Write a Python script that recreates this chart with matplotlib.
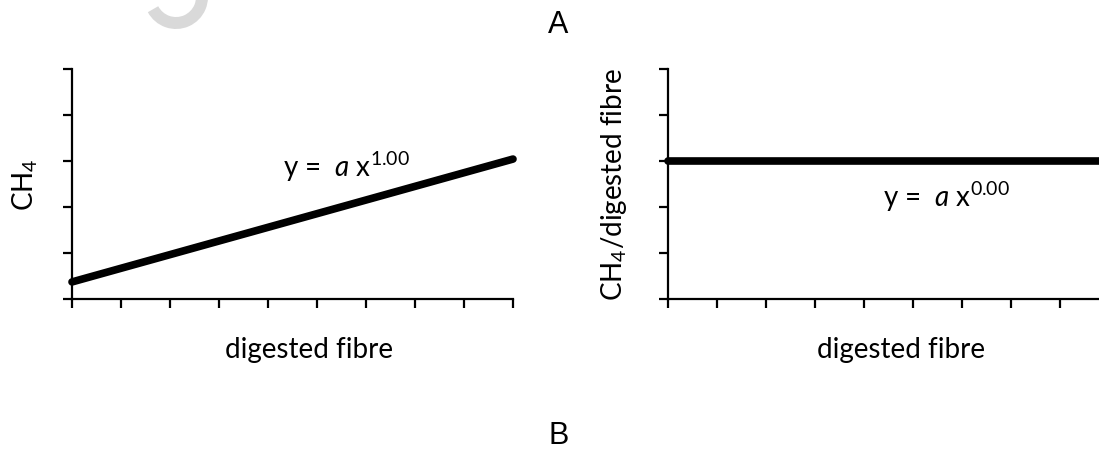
import matplotlib
matplotlib.use("Agg")
import matplotlib.pyplot as plt
from matplotlib.patches import Arc
import numpy as np

plt.rcParams["font.family"] = ["Lato", "DejaVu Sans"]
plt.rcParams["mathtext.fontset"] = "custom"
plt.rcParams["mathtext.rm"] = "Lato"
plt.rcParams["mathtext.it"] = "Lato:italic"

# digested fibre levels (x axis ticks / sample points)
fibre = [5, 9, 13, 17, 21, 25, 29, 33, 37, 41]
# power-law fits: y = a * x^b
a_ch4, b_ch4 = 0.0742, 1.00
a_ratio, b_ratio = 3.0, 0.00
y_ticks = [0, 1, 2, 3, 4, 5]

W, H = 1099, 452
fig = plt.figure(figsize=(W / 100, H / 100), dpi=100)


def box(l, t, r, b):
    return [l / W, 1 - b / H, (r - l) / W, (b - t) / H]


def fx(px):
    return px / W


def fy(py):
    return 1 - py / H


# light grey mark in the top-left corner
bg = fig.add_axes([0, 0, 1, 1], zorder=-5)
bg.set_xlim(0, W)
bg.set_ylim(H, 0)
bg.axis("off")
bg.add_patch(Arc((176, -2), 52, 52, theta1=-20, theta2=152,
                 color="#d9d9d9", lw=8.6, capstyle="butt"))

ax1 = fig.add_axes(box(72, 70, 513, 300))
ax2 = fig.add_axes(box(668, 70, 1109, 300))

for ax in (ax1, ax2):
    ax.set_xlim(fibre[0], fibre[-1])
    ax.set_ylim(y_ticks[0], y_ticks[-1])
    ax.set_xticks(fibre)
    ax.set_yticks(y_ticks)
    ax.tick_params(direction="out", length=6.5, width=1.6,
                   labelbottom=False, labelleft=False, color="black")
    for s in ("top", "right"):
        ax.spines[s].set_visible(False)
    for s in ("left", "bottom"):
        ax.spines[s].set_linewidth(1.6)
        ax.spines[s].set_color("black")
    ax.patch.set_alpha(0)

x = np.array(fibre, dtype=float)
ax1.plot(x, a_ch4 * x ** b_ch4, color="black", lw=5.5,
         solid_capstyle="round", clip_on=False, zorder=3)
ax2.plot(x, a_ratio * x ** b_ratio, color="black", lw=5.5,
         solid_capstyle="round", clip_on=False, zorder=3)

fig.text(fx(283), fy(177), r"y =  $\mathit{a}$ x$^{%.2f}$" % b_ch4,
         fontsize=20, ha="left", va="baseline")
fig.text(fx(883), fy(207), r"y =  $\mathit{a}$ x$^{%.2f}$" % b_ratio,
         fontsize=20, ha="left", va="baseline")

fig.text(fx(309), fy(350), "digested fibre", fontsize=20, ha="center", va="center")
fig.text(fx(901), fy(350), "digested fibre", fontsize=20, ha="center", va="center")

fig.text(fx(25), fy(185), r"CH$_4$", fontsize=20, rotation=90,
         ha="center", va="center")
fig.text(fx(614), fy(185), r"CH$_4$/digested fibre", fontsize=20, rotation=90,
         ha="center", va="center")

fig.text(fx(558), fy(25), "A", fontsize=22, family=["Liberation Sans"],
         ha="center", va="center")
fig.text(fx(559), fy(436), "B", fontsize=22, family=["Liberation Sans"],
         ha="center", va="center")

fig.savefig("out.png", dpi=100)
